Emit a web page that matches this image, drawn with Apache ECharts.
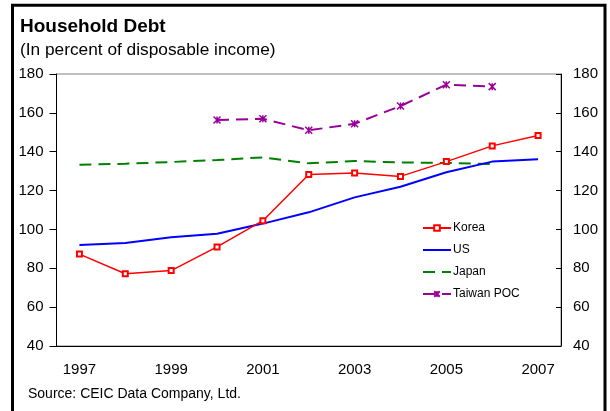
<!DOCTYPE html>
<html>
<head>
<meta charset="utf-8">
<script src="https://cdn.jsdelivr.net/npm/echarts@6/dist/echarts.min.js"></script>
<style>
html,body{margin:0;padding:0;background:#fff;}
#chart{width:610px;height:411px;}
</style>
</head>
<body>
<div id="chart"></div>
<script>
const years = ['1997','1998','1999','2000','2001','2002','2003','2004','2005','2006','2007'];
const korea = [87.3, 77.2, 78.8, 91, 104.5, 128.3, 129, 127.3, 134.9, 143, 148.4];
const us = [92, 93, 96, 97.8, 103, 108.8, 116.5, 122, 129.4, 134.9, 136.1];
const japan = [133.3, 133.8, 134.7, 135.7, 137.1, 134, 135.2, 134.5, 134.2, 133.6, null];
const taiwan = [null, null, null, 156.3, 157, 151, 154.4, 163.5, 174.5, 173.5, null];
const yTicks = [40, 60, 80, 100, 120, 140, 160, 180];

const FONT = 'Liberation Sans, Arial, sans-serif';
const chart = echarts.init(document.getElementById('chart'), null, {renderer: 'canvas'});
const starPath = 'path://M0,0L10,10M10,0L0,10M5,0L5,10';

chart.setOption({
  animation: false,
  backgroundColor: '#fff',
  title: [
    {text: 'Household Debt', left: 15, top: 12,
     textStyle: {fontFamily: FONT, fontSize: 19, fontWeight: 'bold', color: '#000'}},
    {text: '(In percent of disposable income)', left: 15, top: 37,
     textStyle: {fontFamily: FONT, fontSize: 17.3, fontWeight: 'normal', color: '#000'}}
  ],
  grid: {left: 56.5, right: 49, top: 74, bottom: 65, show: true, borderColor: '#808080', borderWidth: 1, backgroundColor: '#fff'},
  legend: {
    orient: 'vertical', left: 417, top: 217, itemWidth: 28, itemHeight: 7, itemGap: 10,
    textStyle: {fontFamily: FONT, fontSize: 12, color: '#000', padding: [0,0,0,-3]},
    data: [
      {name: 'Korea'},
      {name: 'US', itemStyle: {opacity: 0}},
      {name: 'Japan', itemStyle: {opacity: 0}},
      {name: 'Taiwan POC'}
    ]
  },
  xAxis: {
    type: 'category', data: years, boundaryGap: true,
    axisLine: {lineStyle: {color: '#000', width: 1}},
    axisTick: {inside: true, length: 5, interval: 0, lineStyle: {color: '#000'}},
    axisLabel: {interval: 1, margin: 16, fontFamily: FONT, fontSize: 15, color: '#000'},
    splitLine: {show: false}
  },
  yAxis: [
    {type: 'value', min: 40, max: 180, interval: 20,
     axisLine: {show: true, lineStyle: {color: '#000'}},
     axisTick: {show: true, length: 7, lineStyle: {color: '#000'}},
     axisLabel: {margin: 13, fontFamily: FONT, fontSize: 15, color: '#000'},
     splitLine: {show: false}},
    {type: 'value', min: 40, max: 180, interval: 20, position: 'right',
     axisLine: {show: true, lineStyle: {color: '#000'}},
     axisTick: {show: true, inside: true, length: 5, lineStyle: {color: '#000'}},
     axisLabel: {margin: 12, fontFamily: FONT, fontSize: 15, color: '#000'},
     splitLine: {show: false}}
  ],
  series: [
    {name: 'Korea', type: 'line', data: korea, yAxisIndex: 0,
     symbol: 'emptyRect', symbolSize: 5, showAllSymbol: true,
     itemStyle: {color: '#ff0000', borderWidth: 1},
     lineStyle: {color: '#ff0000', width: 1.5}, z: 4},
    {name: 'US', type: 'line', data: us, yAxisIndex: 0, symbol: 'none',
     itemStyle: {color: '#0000ff'},
     lineStyle: {color: '#0000ff', width: 2}, z: 3},
    {name: 'Japan', type: 'line', data: japan, yAxisIndex: 0, symbol: 'none',
     itemStyle: {color: '#008000'},
     lineStyle: {color: '#008000', width: 2, type: [12, 7]}, z: 2},
    {name: 'Taiwan POC', type: 'line', data: taiwan, yAxisIndex: 0,
     symbol: starPath, symbolSize: 7, showAllSymbol: true,
     itemStyle: {color: '#990099', borderColor: '#990099', borderWidth: 1.5},
     lineStyle: {color: '#990099', width: 2, type: [12, 7]}, z: 2}
  ],
  graphic: [
    {type: 'polyline', shape: {points: [[12.5, 420], [12.5, 5.3], [605, 5.3], [605, 420]]},
     style: {stroke: '#000', lineWidth: 3, fill: null}, z: 10},
    {type: 'text', left: 28, top: 387,
     style: {text: 'Source: CEIC Data Company, Ltd.', fontFamily: FONT, fontSize: 14, fill: '#000'}}
  ]
});
</script>
</body>
</html>
